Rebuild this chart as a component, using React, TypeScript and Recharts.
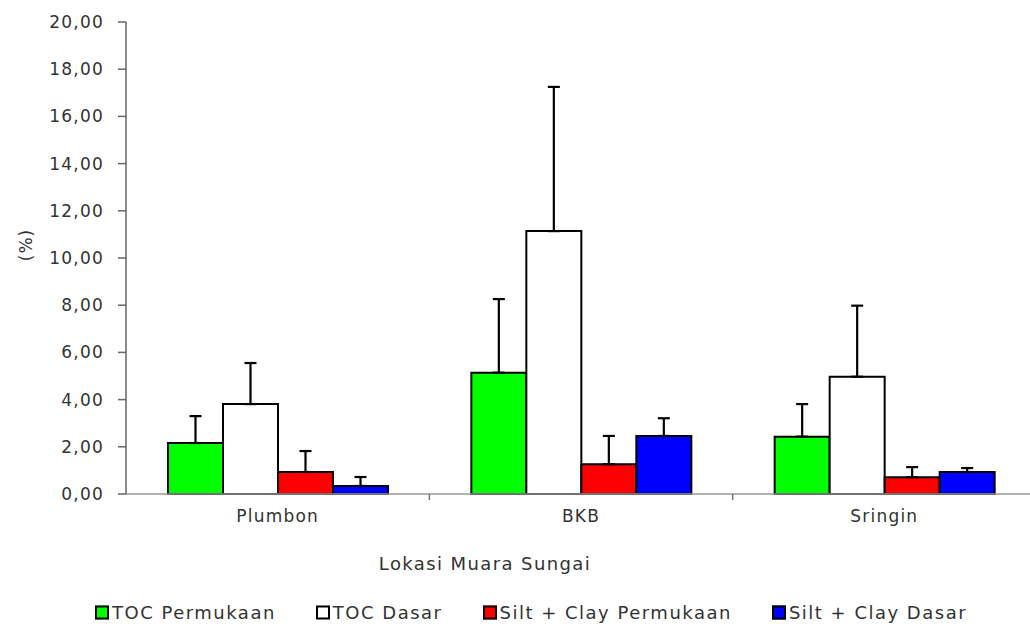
import React from "react";
import { BarChart, Bar, XAxis, YAxis, ErrorBar } from "recharts";

const locations = ["Plumbon", "BKB", "Sringin"];
const tocSurface = [2.16, 5.14, 2.43];
const tocSurfaceSd = [1.14, 3.12, 1.38];
const tocBottom = [3.81, 11.14, 4.97];
const tocBottomSd = [1.74, 6.11, 3.01];
const siltSurface = [0.93, 1.26, 0.71];
const siltSurfaceSd = [0.89, 1.2, 0.43];
const siltBottom = [0.34, 2.46, 0.93];
const siltBottomSd = [0.38, 0.75, 0.17];
const yTicks = [0, 2, 4, 6, 8, 10, 12, 14, 16, 18, 20];

const series = [
  { key: "tocS", name: "TOC Permukaan", fill: "#00ff00" },
  { key: "tocB", name: "TOC Dasar", fill: "#ffffff" },
  { key: "siltS", name: "Silt + Clay Permukaan", fill: "#ff0000" },
  { key: "siltB", name: "Silt + Clay Dasar", fill: "#0000ff" },
];

const data = locations.map((loc, i) => ({
  loc,
  tocS: tocSurface[i],
  tocSErr: [0, tocSurfaceSd[i]],
  tocB: tocBottom[i],
  tocBErr: [0, tocBottomSd[i]],
  siltS: siltSurface[i],
  siltSErr: [0, siltSurfaceSd[i]],
  siltB: siltBottom[i],
  siltBErr: [0, siltBottomSd[i]],
}));

const FONT = "'DejaVu Sans', sans-serif";
const TEXT = "#333333";
const CHART_W = 1040;
const LEFT = 126;
const BAND = (CHART_W - LEFT - 4) / locations.length;

const fmt = (v: number) => v.toFixed(2).replace(".", ",");

function CategoryTick(props: any) {
  const { x, y, payload, index } = props;
  const isLast = index === locations.length - 1;
  return (
    <g>
      {index > 0 && (
        <line x1={x - BAND / 2} x2={x - BAND / 2} y1={y - 8} y2={y - 2} stroke="#777" strokeWidth={1.5} />
      )}
      {isLast && (
        <line x1={x + BAND / 2} x2={x + BAND / 2} y1={y - 8} y2={y - 2} stroke="#777" strokeWidth={1.5} />
      )}
      <text x={x} y={y + 20} textAnchor="middle" fill={TEXT} fontSize={17} fontFamily={FONT} letterSpacing={1.2}>
        {payload.value}
      </text>
    </g>
  );
}

export default function App() {
  return (
    <div style={{ position: "absolute", left: 0, top: 0, width: 1030, height: 626, overflow: "hidden", background: "#fff", fontFamily: FONT }}>
      <BarChart
        width={CHART_W}
        height={626}
        data={data}
        margin={{ top: 22, right: 4, bottom: 92, left: 0 }}
        barGap={0}
        barSize={55}
      >
        <XAxis
          dataKey="loc"
          height={40}
          axisLine={{ stroke: "#999", strokeWidth: 1.5 }}
          tickLine={false}
          tick={<CategoryTick />}
          interval={0}
        />
        <YAxis
          width={LEFT}
          domain={[0, 20]}
          ticks={yTicks}
          interval={0}
          tickFormatter={fmt}
          tickSize={8}
          tickMargin={14}
          axisLine={{ stroke: "#666", strokeWidth: 1.5 }}
          tickLine={{ stroke: "#666", strokeWidth: 1.5 }}
          tick={{ fill: TEXT, fontSize: 17, fontFamily: FONT, letterSpacing: 1.2 }}
        />
        {series.map((s) => (
          <Bar key={s.key} dataKey={s.key} name={s.name} fill={s.fill} stroke="#000" strokeWidth={2} isAnimationActive={false}>
            <ErrorBar dataKey={s.key + "Err"} direction="y" width={6} stroke="#000" strokeWidth={2.2} />
          </Bar>
        ))}
      </BarChart>
      <div
        style={{
          position: "absolute",
          left: 12,
          top: 245,
          transform: "translate(-50%, -50%) rotate(-90deg)",
          color: TEXT,
          fontSize: 17,
          letterSpacing: 1,
          transformOrigin: "center",
          marginLeft: 14,
        }}
      >
        (%)
      </div>
      <div
        style={{
          position: "absolute",
          left: 485,
          top: 563,
          transform: "translate(-50%, -50%)",
          color: TEXT,
          fontSize: 18,
          letterSpacing: 1.4,
          whiteSpace: "nowrap",
        }}
      >
        Lokasi Muara Sungai
      </div>
      <div
        style={{
          position: "absolute",
          left: 95,
          top: 612,
          transform: "translateY(-50%)",
          display: "flex",
          gap: 40,
          color: TEXT,
          fontSize: 18,
          letterSpacing: 1.5,
          whiteSpace: "nowrap",
        }}
      >
        {series.map((s) => (
          <div key={s.key} style={{ display: "flex", alignItems: "center" }}>
            <span
              style={{
                display: "inline-block",
                width: 10,
                height: 10,
                background: s.fill,
                border: "2px solid #000",
                marginRight: 3,
              }}
            />
            <span>{s.name}</span>
          </div>
        ))}
      </div>
    </div>
  );
}
